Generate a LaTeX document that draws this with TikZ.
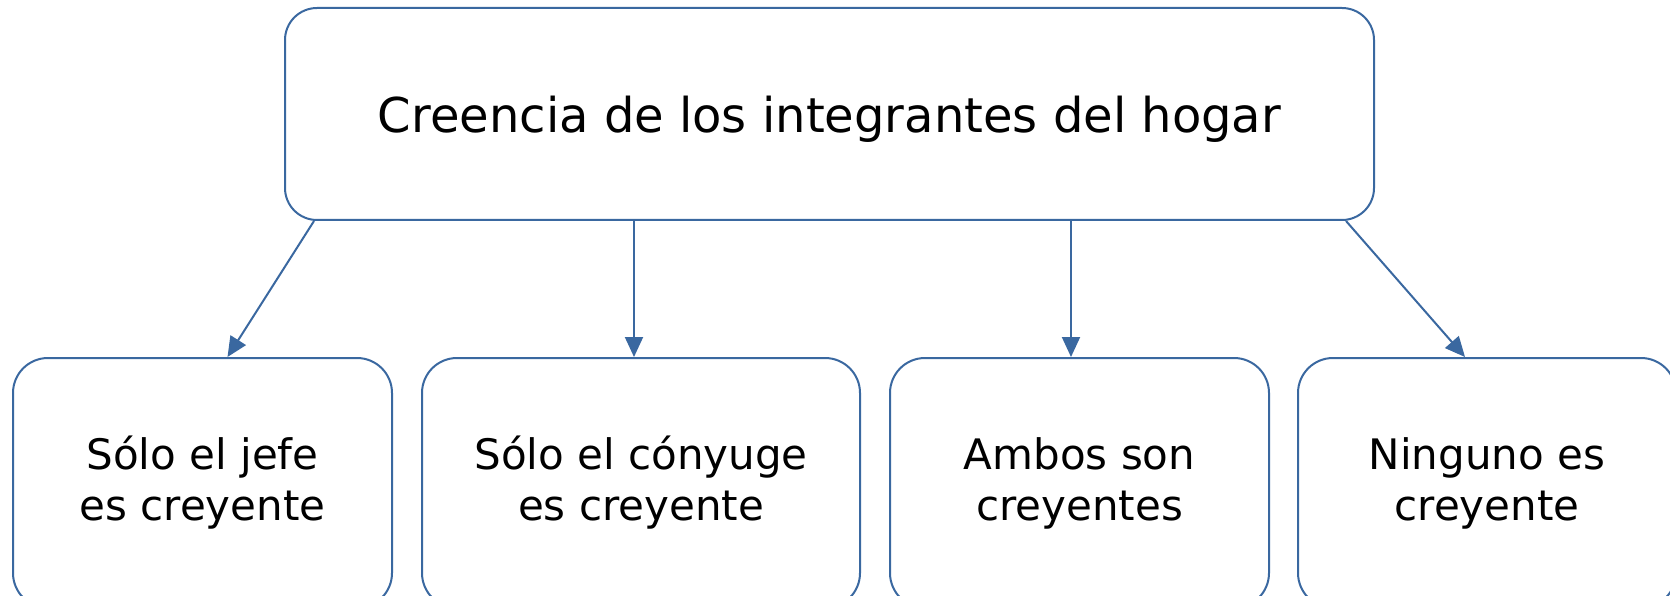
\documentclass[tikz,border=0pt]{standalone}
\usepackage{fontspec}
\setmainfont{DejaVu Sans}
\usetikzlibrary{arrows.meta}
\definecolor{boxblue}{HTML}{3A68A0}
\begin{document}
\begin{tikzpicture}[x=1pt,y=-1pt]
      \tikzset{
        box/.style={draw=boxblue,line width=2pt,rounded corners=32pt,align=center,inner sep=0pt},
        catbox/.style={box,minimum width=379pt,minimum height=250pt,rounded corners=35pt,font=\fontsize{42}{51}\selectfont},
        arr/.style={draw=boxblue,line width=2pt,-{Triangle[length=20pt,width=18pt]}}
      }
      \useasboundingbox (0,0) rectangle (1670,596);

      \node[box,minimum width=1089pt,minimum height=212pt,text depth=0pt,font=\fontsize{48}{58}\selectfont] (h) at (829.5,114) {Creencia de los integrantes del hogar};
      \node[catbox] (c1) at (202.5,483) {Sólo el jefe\\es creyente};
      \node[catbox,minimum width=438pt] (c2) at (641,483) {Sólo el cónyuge\\es creyente};
      \node[catbox] (c3) at (1079.5,483) {Ambos son\\creyentes};
      \node[catbox,minimum width=378pt] (c4) at (1487,483) {Ninguno es\\creyente};

      \coordinate (a2) at ([xshift=-7pt]c2.north);
      \coordinate (a3) at ([xshift=-8.5pt]c3.north);

      \draw[arr] ([xshift=30pt]h.south west) -- ([xshift=25pt]c1.north);
      \draw[arr] (a2 |- h.south) -- (a2);
      \draw[arr] (a3 |- h.south) -- (a3);
      \draw[arr] ([xshift=-29pt]h.south east) -- ([xshift=-22pt]c4.north);
    \end{tikzpicture}
\end{document}
